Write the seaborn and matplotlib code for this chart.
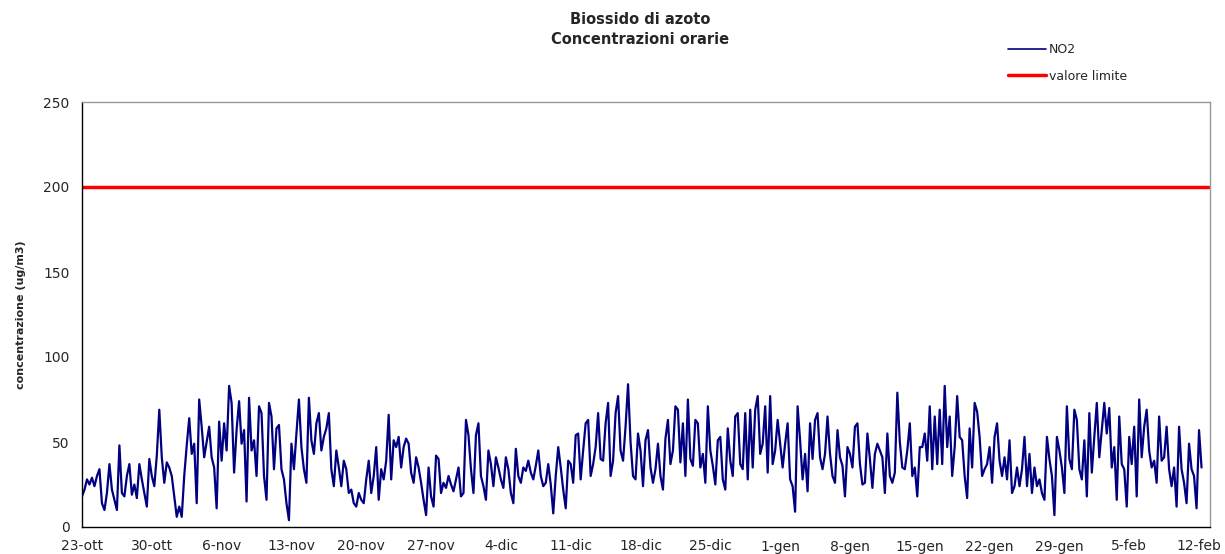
import numpy as np
import pandas as pd
import matplotlib
matplotlib.use("Agg")
import matplotlib.pyplot as plt
import seaborn as sns
from matplotlib.lines import Line2D

nan = np.nan
# NO2 concentrations (ug/m3), 4 readings per day (every 6 hours), one list per week
week01 = [18, 22, 28, 25, 29, 24, 30, 34, 14, 10, 20, 37, 22, 16, 10, 48, 20, 18, 30, 37, 19, 25, 17, 37, 28, 20, 12, 40]
week02 = [30, 24, 42, 69, 41, 26, 38, 35, 30, nan, 6, 12, 6, 30, 48, 64, 43, 49, 14, 75, 59, 41, 50, 59, 41, 35, 11, 62]
week03 = [39, 61, 45, 83, 73, 32, 57, 74, 49, 57, 15, 76, 45, 51, 30, 71, 67, 30, 16, 73, 65, 34, 58, 60, 34, 28, 14, 4]
week04 = [49, 34, 55, 75, 47, 34, 26, 76, 51, 43, 61, 67, 45, 53, 58, 67, 34, 24, 45, 35, 24, 39, 34, 20, 22, 14, 12, 20]
week05 = [16, 14, 28, 39, 20, 30, 47, 16, 34, 28, 39, 66, 28, 51, 47, 53, 35, 47, 52, 49, 32, 26, 41, 35, 26, 16, 7, 35]
week06 = [18, 12, 42, 40, 20, 26, 23, 30, 25, 21, 28, 35, 18, 20, 63, 54, 34, 20, 54, 61, 30, 24, 16, 45, 37, 24, 41, 35]
week07 = [28, 23, 41, 34, 20, 14, 46, 30, 26, 35, 33, 39, 32, 28, 36, 45, 30, 24, 26, 37, 25, 8, 30, 47, 35, 22, 11, 39]
week08 = [37, 26, 54, 55, 28, 45, 61, 63, 30, 37, 47, 67, 40, 39, 61, 73, 30, 39, 67, 77, 45, 39, 59, 84, 50, 30, 28, 55]
week09 = [45, 24, 51, 57, 35, 26, 34, 49, 30, 22, 52, 63, 37, 45, 71, 69, 38, 61, 30, 75, 40, 36, 63, 61, 35, 43, 26, 71]
week10 = [45, 36, 25, 51, 53, 28, 22, 58, 39, 30, 65, 67, 37, 34, 67, 28, 69, 35, 69, 77, 43, 49, 71, 32, 77, 37, 45, 63]
week11 = [49, 35, 49, 61, 28, 24, 9, 71, 51, 28, 43, 21, 61, 40, 63, 67, 41, 34, 43, 65, 43, 30, 26, 57, 41, 36, 18, 47]
week12 = [43, 35, 59, 61, 37, 25, 26, 55, 40, 23, 43, 49, 45, 41, 20, 55, 30, 26, 32, 79, 50, 35, 34, 45, 61, 30, 35, 18]
week13 = [47, 47, 55, 39, 71, 34, 65, 37, 69, 37, 83, 47, 65, 30, 47, 77, 53, 51, 30, 17, 58, 35, 73, 68, 53, 30, 34, 37]
week14 = [47, 26, 53, 61, 39, 30, 41, 28, 51, 20, 24, 35, 24, 34, 53, 24, 43, 20, 35, 24, 28, 20, 16, 53, 40, 30, 7, 53]
week15 = [45, 35, 20, 71, 40, 34, 69, 63, 34, 28, 51, 18, 67, 32, 53, 73, 41, 57, 73, 55, 70, 35, 47, 16, 65, 37, 34, 12]
week16 = [53, 37, 59, 18, 75, 41, 59, 69, 45, 35, 39, 26, 65, 39, 41, 59, 34, 24, 35, 12, 59, 34, 26, 14, 49, 34, 30, 11, 57, 35]

limit_value = 200
tick_dates = ["2006-10-23", "2006-10-30", "2006-11-06", "2006-11-13", "2006-11-20", "2006-11-27",
              "2006-12-04", "2006-12-11", "2006-12-18", "2006-12-25", "2007-01-01", "2007-01-08",
              "2007-01-15", "2007-01-22", "2007-01-29", "2007-02-05", "2007-02-12"]
tick_labels = ["23-ott", "30-ott", "6-nov", "13-nov", "20-nov", "27-nov", "4-dic", "11-dic", "18-dic",
               "25-dic", "1-gen", "8-gen", "15-gen", "22-gen", "29-gen", "5-feb", "12-feb"]
y_ticks = [0, 50, 100, 150, 200, 250]

values = (week01 + week02 + week03 + week04 + week05 + week06 + week07 + week08 +
          week09 + week10 + week11 + week12 + week13 + week14 + week15 + week16)
times = pd.date_range(start="2006-10-23", periods=len(values), freq="6h")
df = pd.DataFrame({"time": times, "NO2": values})

sns.set_style("white")
plt.rcParams['font.family'] = ['DejaVu Sans']

fig = plt.figure(figsize=(12.25, 5.54), dpi=100)
ax = fig.add_axes([82/1225, 1-527/554, (1210-82)/1225, (527-102)/554])

navy = "#000080"
sns.lineplot(data=df, x="time", y="NO2", ax=ax, color=navy, linewidth=1.6)
ax.axhline(limit_value, color="#ff0000", linewidth=2.5)

start = pd.Timestamp("2006-10-23")
ax.set_xlim(start, start + pd.Timedelta(days=113.1))
ax.set_ylim(0, 250)
ax.set_xticks(pd.to_datetime(tick_dates))
ax.set_xticklabels(tick_labels, fontsize=10)
ax.set_yticks(y_ticks)
ax.set_yticklabels([str(v) for v in y_ticks], fontsize=10)
ax.tick_params(axis="both", direction="out", length=5, width=1, color="black", pad=4)
ax.set_xlabel("")
ax.set_ylabel("concentrazione (ug/m3)", fontsize=8, fontweight="bold", labelpad=12)

for side in ["left", "bottom"]:
    ax.spines[side].set_color("black")
    ax.spines[side].set_linewidth(1)
for side in ["top", "right"]:
    ax.spines[side].set_color("#999999")
    ax.spines[side].set_linewidth(1)

fig.text(640/1225, 1-19/554, "Biossido di azoto", ha="center", va="center",
         fontsize=10.5, fontweight="bold")
fig.text(640/1225, 1-40/554, "Concentrazioni orarie", ha="center", va="center",
         fontsize=10.5, fontweight="bold")

handles = [Line2D([0], [0], color=navy, linewidth=1.2),
           Line2D([0], [0], color="#ff0000", linewidth=2.5)]
fig.legend(handles, ["NO2", "valore limite"], loc="upper left",
           bbox_to_anchor=(1003/1225, 1-38/554), frameon=False, fontsize=9,
           handlelength=3.0, handletextpad=0.3, labelspacing=1.1, borderaxespad=0)

fig.savefig("out.png", dpi=100)
